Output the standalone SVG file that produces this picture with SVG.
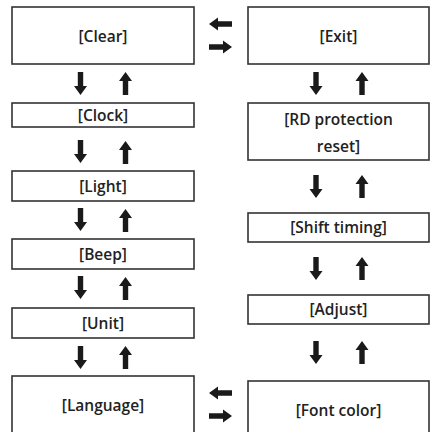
<svg xmlns="http://www.w3.org/2000/svg" width="431" height="432" viewBox="0 0 431 432">
<style>
.box{fill:#fff;stroke:#333;stroke-width:1.6}
.t{font-family:"Open Sans","Noto Sans",sans-serif;font-weight:600;font-size:15.5px;fill:#222;text-anchor:middle}
.a{fill:#1a1a1a}
</style>
<defs>
<path id="ar" d="M-2.7,0 H2.7 V14 H6.5 L0,23 L-6.5,14 H-2.7 Z"/>
</defs>
<rect width="431" height="432" fill="#fff"/>
<g id="clear"><rect class="box" x="12" y="7" width="182" height="57"/><text class="t" x="103" y="42">[Clear]</text></g>
<g id="clock"><rect class="box" x="12" y="103" width="182" height="24"/><text class="t" x="103" y="121">[Clock]</text></g>
<g id="light"><rect class="box" x="12" y="171" width="182" height="30"/><text class="t" x="103" y="192">[Light]</text></g>
<g id="beep"><rect class="box" x="12" y="239" width="182" height="30"/><text class="t" x="103" y="260">[Beep]</text></g>
<g id="unit"><rect class="box" x="12" y="308" width="182" height="30"/><text class="t" x="103" y="329">[Unit]</text></g>
<g id="language"><rect class="box" x="12" y="376" width="182" height="70"/><text class="t" x="103" y="411">[Language]</text></g>
<g id="exit"><rect class="box" x="248" y="7" width="181" height="57"/><text class="t" x="338.5" y="42">[Exit]</text></g>
<g id="rd"><rect class="box" x="248" y="103" width="181" height="57"/><text class="t" x="338.5" y="125">[RD protection</text><text class="t" x="338.5" y="152">reset]</text></g>
<g id="shift"><rect class="box" x="248" y="213" width="181" height="29"/><text class="t" x="338.5" y="233">[Shift timing]</text></g>
<g id="adjust"><rect class="box" x="248" y="295" width="181" height="29"/><text class="t" x="338.5" y="315">[Adjust]</text></g>
<g id="fontcolor"><rect class="box" x="248" y="381" width="181" height="70"/><text class="t" x="338.5" y="416">[Font color]</text></g>
<g id="connectors" class="a">
<use href="#ar" transform="translate(80.5,72)"/>
<use href="#ar" transform="translate(125.5,95) rotate(180)"/>
<use href="#ar" transform="translate(80.5,140)"/>
<use href="#ar" transform="translate(125.5,164) rotate(180)"/>
<use href="#ar" transform="translate(80.5,208)"/>
<use href="#ar" transform="translate(125.5,232) rotate(180)"/>
<use href="#ar" transform="translate(80.5,276)"/>
<use href="#ar" transform="translate(125.5,300) rotate(180)"/>
<use href="#ar" transform="translate(80.5,346)"/>
<use href="#ar" transform="translate(125.5,369) rotate(180)"/>
<use href="#ar" transform="translate(316,72)"/>
<use href="#ar" transform="translate(362,95) rotate(180)"/>
<use href="#ar" transform="translate(316,175)"/>
<use href="#ar" transform="translate(362,198) rotate(180)"/>
<use href="#ar" transform="translate(316,257)"/>
<use href="#ar" transform="translate(362,280) rotate(180)"/>
<use href="#ar" transform="translate(316,341)"/>
<use href="#ar" transform="translate(362,364) rotate(180)"/>
<use href="#ar" transform="translate(232,24) rotate(90)"/>
<use href="#ar" transform="translate(209,47) rotate(-90)"/>
<use href="#ar" transform="translate(232,393) rotate(90)"/>
<use href="#ar" transform="translate(209,416) rotate(-90)"/>
</g>
</svg>
